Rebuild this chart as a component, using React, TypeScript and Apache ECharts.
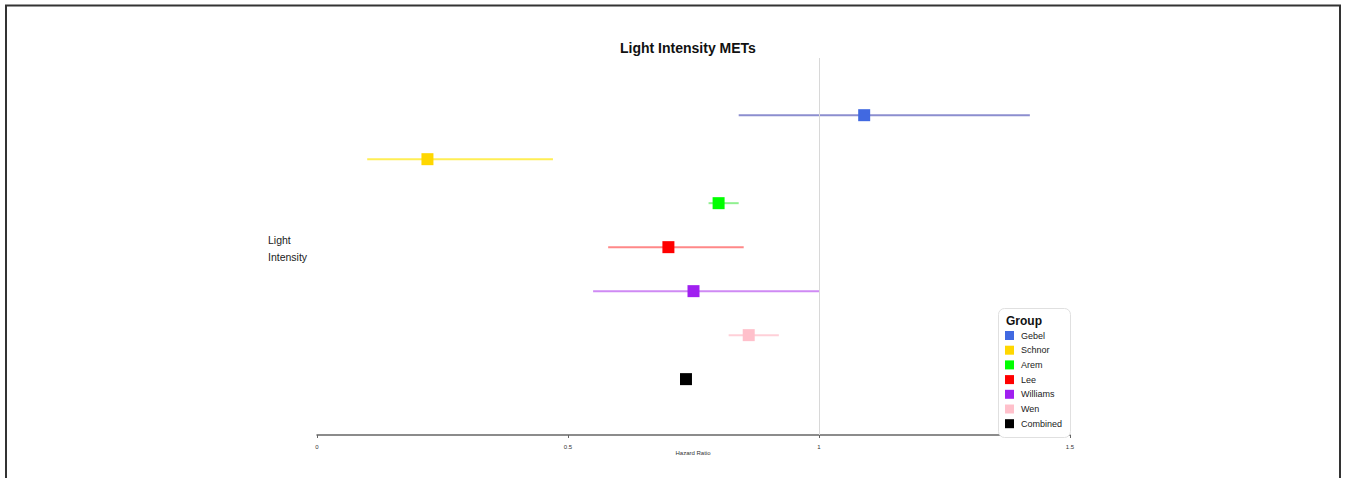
import React, { useEffect, useRef } from "react";
import * as echarts from "echarts";

const groups = ["Gebel", "Schnor", "Arem", "Lee", "Williams", "Wen", "Combined"];
const hazardRatio = [1.09, 0.22, 0.8, 0.7, 0.75, 0.86, 0.735];
const lowerCI = [0.84, 0.1, 0.78, 0.58, 0.55, 0.82, 0.73];
const upperCI = [1.42, 0.47, 0.84, 0.85, 1.0, 0.92, 0.74];
const rowPos = [7, 6, 5, 4, 3, 2, 1];
const pointColors = ["#4169E1", "#FFD700", "#00FF00", "#FF0000", "#A020F0", "#FFC0CB", "#000000"];
const lineColors = ["#8c8ecf", "#ffee55", "#90f090", "#ff8888", "#cf8af4", "#ffd0d8", "#808080"];
const xTicks = [0, 0.5, 1, 1.5];
const xAxisTitle = "Hazard Ratio";

const FONT = "Liberation Sans, Arial, sans-serif";

export default function App() {
  const ref = useRef<HTMLDivElement>(null);
  useEffect(() => {
    const chart = echarts.init(ref.current!, null, { renderer: "svg" });
    const series: any[] = [];
    groups.forEach((g, i) => {
      series.push({
        name: g + " CI",
        type: "line",
        data: [
          [lowerCI[i], rowPos[i]],
          [upperCI[i], rowPos[i]],
        ],
        symbol: "none",
        lineStyle: { color: lineColors[i], width: 2 },
        z: 2,
        silent: true,
      });
    });
    groups.forEach((g, i) => {
      series.push({
        name: g,
        type: "scatter",
        data: [[hazardRatio[i], rowPos[i]]],
        symbol: "rect",
        symbolSize: 12,
        itemStyle: { color: pointColors[i], opacity: 1 },
        z: 3,
        ...(i === 0
          ? {
              markLine: {
                silent: true,
                symbol: "none",
                label: { show: false },
                lineStyle: { color: "#d8d8d8", width: 1, type: "solid" },
                data: [{ xAxis: 1 }],
              },
            }
          : {}),
      });
    });

    chart.setOption({
      animation: false,
      textStyle: { fontFamily: FONT },
      title: {
        text: "Light Intensity METs",
        left: 615,
        top: 36,
        textStyle: { fontSize: 14, fontWeight: "bold", color: "#111", fontFamily: FONT },
      },
      grid: { left: 317, right: 1346 - 1070, top: 58, bottom: 478 - 435 },
      xAxis: {
        type: "value",
        min: 0,
        max: 1.5,
        interval: 0.5,
        axisLine: { show: true, onZero: false, lineStyle: { color: "#666", width: 1.5 } },
        axisTick: { show: true, length: 3, lineStyle: { color: "#666" } },
        axisLabel: {
          fontSize: 6,
          color: "#333",
          margin: 9,
          formatter: (v: number) => (xTicks.includes(v) ? String(v) : ""),
        },
        splitLine: { show: false },
      },
      yAxis: {
        type: "value",
        min: -0.27,
        max: 8.3,
        show: false,
        splitLine: { show: false },
      },
      legend: {
        data: groups,
        orient: "vertical",
        left: 1005,
        top: 331,
        itemWidth: 9,
        itemHeight: 9,
        itemGap: 5.7,
        icon: "rect",
        selectedMode: false,
        textStyle: { fontSize: 9, color: "#222", fontFamily: FONT, padding: [0, 0, 0, 2] },
        padding: 0,
        z: 10,
      },
      graphic: [
        {
          type: "rect",
          z: 5,
          shape: { x: 6, y: 5.5, width: 1334, height: 480 },
          style: { fill: "none", stroke: "#333", lineWidth: 2 },
        },
        {
          type: "rect",
          z: 6,
          shape: { x: 998.5, y: 308.5, width: 72, height: 129, r: 6 },
          style: { fill: "#fff", stroke: "#e0e0e0", lineWidth: 1 },
        },
        {
          type: "text",
          z: 7,
          x: 1006,
          y: 315,
          style: { text: "Group", font: "bold 12px " + FONT, fill: "#111" },
        },
        {
          type: "text",
          z: 7,
          x: 693,
          y: 450,
          style: { text: xAxisTitle, font: "6px " + FONT, fill: "#333", textAlign: "center" },
        },
        {
          type: "text",
          z: 7,
          x: 268,
          y: 231,
          style: { text: "Light\nIntensity", font: "10.5px " + FONT, fill: "#222", lineHeight: 17 },
        },
      ],
      series,
    });
    return () => chart.dispose();
  }, []);
  return (
    <div
      ref={ref}
      style={{ position: "fixed", left: 0, top: 0, width: 1346, height: 478, background: "#fff" }}
    />
  );
}
